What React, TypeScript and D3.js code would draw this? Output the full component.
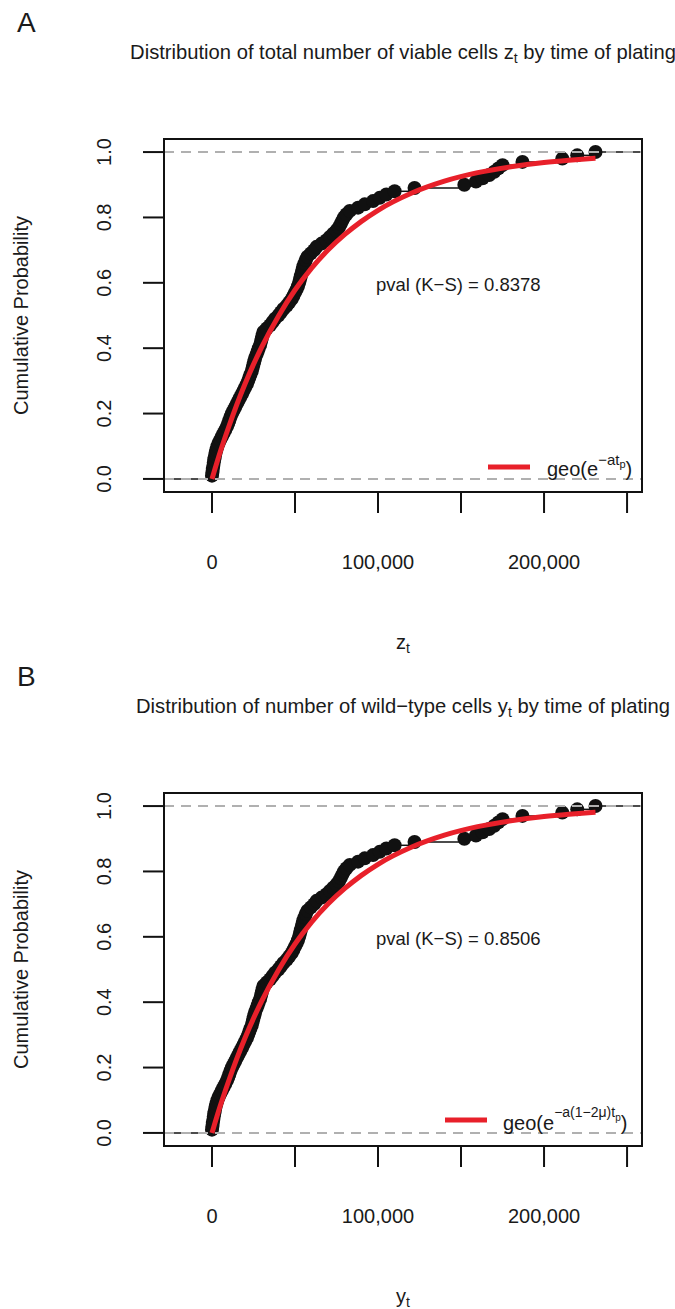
import React from "react";
import * as d3 from "d3";

// ---- data ----
const zSample = [
  0, 250, 500, 800, 1100, 1400, 1800, 2200, 2700, 3300,
  4000, 5000, 6000, 7000, 8000, 9000, 9800, 10500, 11200, 12000,
  13000, 14000, 15000, 16000, 17000, 18000, 19000, 20000, 21000, 21800,
  22500, 23200, 24000, 24500, 25000, 25500, 26000, 26800, 27500, 28200,
  29000, 29500, 30000, 30500, 31000, 33000, 35000, 36500, 38000, 40000,
  41500, 43000, 45000, 46500, 48000, 49000, 50000, 51000, 51800, 52500,
  53000, 53500, 54000, 54500, 55000, 55800, 56500, 57500, 59500, 61500,
  63000, 66000, 69000, 71000, 73000, 75000, 76500, 77500, 78500, 79500,
  81000, 83000, 88000, 92000, 97000, 101000, 105000, 110000, 122000, 152000,
  159000, 163000, 167000, 170000, 172500, 175000, 187000, 211000, 220000, 231000,
];
const ySample = [
  0, 250, 500, 800, 1100, 1400, 1800, 2200, 2700, 3300,
  4000, 5000, 6000, 7000, 8000, 9000, 9800, 10500, 11200, 12000,
  13000, 14000, 15000, 16000, 17000, 18000, 19000, 20000, 21000, 21800,
  22500, 23200, 24000, 24500, 25000, 25500, 26000, 26800, 27500, 28200,
  29000, 29500, 30000, 30500, 31000, 33000, 35000, 36500, 38000, 40000,
  41500, 43000, 45000, 46500, 48000, 49000, 50000, 51000, 51800, 52500,
  53000, 53500, 54000, 54500, 55000, 55800, 56500, 57500, 59500, 61500,
  63000, 66000, 69000, 71000, 73000, 75000, 76500, 77500, 78500, 79500,
  81000, 83000, 88000, 92000, 97000, 101000, 105000, 110000, 122000, 152000,
  159000, 163000, 167000, 170000, 172500, 175000, 187000, 211000, 220000, 231000,
];

// fitted geometric CDF
const fitX = [0, 5000, 10000, 15000, 20000, 30000, 40000, 50000, 60000, 70000, 80000, 90000, 100000, 120000, 140000, 160000, 180000, 200000, 215000, 231000];
const fitZ = [0, 0.083, 0.158, 0.228, 0.292, 0.404, 0.498, 0.578, 0.645, 0.701, 0.748, 0.788, 0.822, 0.874, 0.911, 0.937, 0.955, 0.968, 0.975, 0.981];
const fitY = [0, 0.083, 0.158, 0.228, 0.292, 0.404, 0.498, 0.578, 0.645, 0.701, 0.748, 0.788, 0.822, 0.874, 0.911, 0.937, 0.955, 0.968, 0.975, 0.981];

const xTicks = [0, 50000, 100000, 150000, 200000, 250000];
const xTickLabels = ["0", "", "100,000", "", "200,000", ""];
const yTicks = [0, 0.2, 0.4, 0.6, 0.8, 1.0];
const yTickLabels = ["0.0", "0.2", "0.4", "0.6", "0.8", "1.0"];

const FONT = "'Liberation Sans', Arial, Helvetica, sans-serif";
const RED = "#e8202a";

type PanelProps = {
  oy: number;
  letter: string;
  title: React.ReactNode;
  sample: number[];
  fx: number[];
  fy: number[];
  pval: string;
  legend: React.ReactNode;
  legendLine: [number, number, number];
  axisLabel: React.ReactNode;
};

function Panel(p: PanelProps) {
  const left = 164, right = 642, top = 139 + p.oy, bottom = 492 + p.oy;
  const x = d3.scaleLinear().domain([-28900, 259000]).range([left, right]);
  const y = d3.scaleLinear().domain([-0.04, 1.04]).range([bottom, top]);
  const n = p.sample.length;
  const sorted = p.sample.slice().sort((a, b) => a - b);
  const ecdf = sorted.map((v, i) => ({ v, f: (i + 1) / n }));
  const line = d3
    .line<number>()
    .x((_, i) => x(p.fx[i]))
    .y((d) => y(d))
    .curve(d3.curveMonotoneX);
  const cx = (left + right) / 2;
  const cy = (top + bottom) / 2;
  return (
    <g fontFamily={FONT} fill="#1a1a1a">
      <text x={17} y={32 + p.oy} fontSize={28}>{p.letter}</text>
      <text x={cx} y={59 + p.oy} fontSize={20.2} textAnchor="middle">{p.title}</text>
      {/* step segments */}
      <line x1={left} x2={x(sorted[0])} y1={y(0)} y2={y(0)} stroke="#111" strokeWidth={1.5} />
      {ecdf.map((d, i) => (
        <line
          key={"s" + i}
          x1={x(d.v)}
          x2={i < n - 1 ? x(ecdf[i + 1].v) : right}
          y1={y(d.f)}
          y2={y(d.f)}
          stroke="#111"
          strokeWidth={1.5}
        />
      ))}
      {ecdf.map((d, i) => (
        <circle key={"p" + i} cx={x(d.v)} cy={y(d.f)} r={7} fill="#111" />
      ))}
      {/* reference lines */}
      {[0, 1].map((h) => (
        <line key={"h" + h} x1={left} x2={right} y1={y(h)} y2={y(h)} stroke="#b0b0b0" strokeWidth={2} strokeDasharray="10,7" />
      ))}
      {/* fitted curve */}
      <path d={line(p.fy) || ""} fill="none" stroke={RED} strokeWidth={5} />
      {/* box */}
      <rect x={left} y={top} width={right - left} height={bottom - top} fill="none" stroke="#111" strokeWidth={2} />
      {/* x axis */}
      {xTicks.map((t, i) => (
        <g key={"xt" + i}>
          <line x1={x(t)} x2={x(t)} y1={bottom} y2={bottom + 21} stroke="#111" strokeWidth={2} />
          {xTickLabels[i] && (
            <text x={x(t)} y={569 + p.oy} fontSize={20} textAnchor="middle">{xTickLabels[i]}</text>
          )}
        </g>
      ))}
      {/* y axis */}
      {yTicks.map((t, i) => (
        <g key={"yt" + i}>
          <line x1={left - 21} x2={left} y1={y(t)} y2={y(t)} stroke="#111" strokeWidth={2} />
          <text transform={`translate(111,${y(t)}) rotate(-90)`} fontSize={20} textAnchor="middle">{yTickLabels[i]}</text>
        </g>
      ))}
      <text transform={`translate(28,${cy}) rotate(-90)`} fontSize={20} textAnchor="middle">Cumulative Probability</text>
      <text x={cx} y={649 + p.oy} fontSize={20} textAnchor="middle">{p.axisLabel}</text>
      <text x={376} y={291 + p.oy} fontSize={18.5}>{p.pval}</text>
      {/* legend */}
      <line x1={p.legendLine[0]} x2={p.legendLine[1]} y1={p.legendLine[2] + p.oy} y2={p.legendLine[2] + p.oy} stroke={RED} strokeWidth={5} />
      {p.legend}
    </g>
  );
}

export default function App() {
  const B = 654;
  return (
    <svg width={675} height={1309} style={{ position: "absolute", left: 0, top: 0, background: "#fff" }}>
      <rect width={675} height={1309} fill="#fff" />
      <Panel
        oy={0}
        letter="A"
        title={
          <>
            Distribution of total number of viable cells z<tspan fontSize={14} dy={4}>t</tspan>
            <tspan dy={-4}> by time of plating</tspan>
          </>
        }
        sample={zSample}
        fx={fitX}
        fy={fitZ}
        pval="pval (K−S) = 0.8378"
        legendLine={[488, 530, 467]}
        legend={
          <text x={547} y={476} fontSize={20} fontFamily={FONT}>
            geo(e<tspan fontSize={15} dy={-11}>−at</tspan>
            <tspan fontSize={11} dy={3}>p</tspan>
            <tspan fontSize={20} dy={8}>)</tspan>
          </text>
        }
        axisLabel={
          <>
            z<tspan fontSize={14} dy={4}>t</tspan>
          </>
        }
      />
      <Panel
        oy={B}
        letter="B"
        title={
          <>
            Distribution of number of wild−type cells y<tspan fontSize={14} dy={4}>t</tspan>
            <tspan dy={-4}> by time of plating</tspan>
          </>
        }
        sample={ySample}
        fx={fitX}
        fy={fitY}
        pval="pval (K−S) = 0.8506"
        legendLine={[445, 487, 466]}
        legend={
          <text x={503} y={476 + B} fontSize={20} fontFamily={FONT}>
            geo(e<tspan fontSize={14} dy={-13}>−a(1−2μ)t</tspan>
            <tspan fontSize={10} dy={4}>p</tspan>
            <tspan fontSize={20} dy={9}>)</tspan>
          </text>
        }
        axisLabel={
          <>
            y<tspan fontSize={14} dy={4}>t</tspan>
          </>
        }
      />
    </svg>
  );
}
